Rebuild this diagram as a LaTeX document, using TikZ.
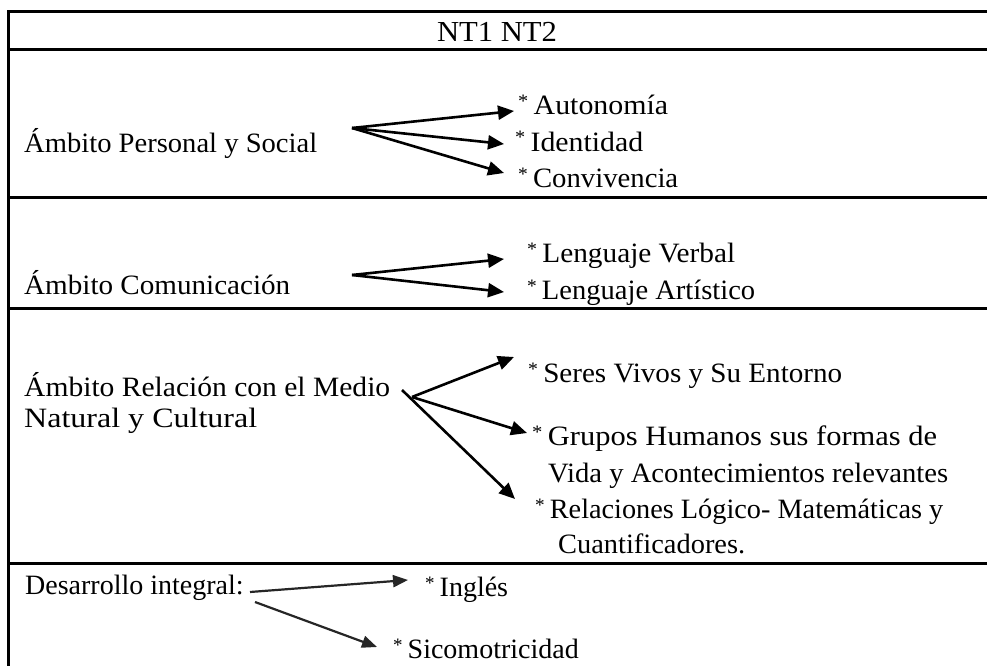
\documentclass[tikz,border=0pt]{standalone}
\usepackage{fontspec}
\usepackage{graphicx}
\setmainfont{Liberation Serif}
\usetikzlibrary{arrows.meta}
\tikzset{
  txt/.style={anchor=base west, inner sep=0pt, font=\fontsize{28}{32}\selectfont},
  rule/.style={line width=3pt},
  arr/.style={line width=2.6pt, -{Triangle[length=16pt,width=14pt]}},
  arrthin/.style={line width=2.2pt, draw=black!85, -{Triangle[length=15pt,width=12pt]}}
}
\newcommand{\bulstar}{\raisebox{7pt}{\fontsize{19}{19}\selectfont *}\hspace{5pt}}
\newcommand{\fitto}[2]{\resizebox{#1}{\height}{#2}}
\begin{document}
\begin{tikzpicture}[x=1pt,y=-1pt]
\useasboundingbox (0,0) rectangle (987,666);
% table
\draw[rule] (987,12) -- (8,12) -- (8,666);
\foreach \yy in {50,197,308,563} \draw[rule] (8,\yy) -- (987,\yy);
% header
\node[anchor=base, inner sep=0pt, font=\fontsize{29}{32}\selectfont] (hd) at (497,42) {\fitto{120pt}{NT1 NT2}};
% row 1
\node[txt] (ps) at (24,152) {\fitto{293pt}{Ámbito Personal y Social}};
\node[txt] (au) at (518,115) {\fitto{150pt}{\bulstar Autonomía}};
\node[txt] (id) at (515,151) {\fitto{128pt}{\bulstar Identidad}};
\node[txt] (co) at (518,187) {\fitto{160pt}{\bulstar Convivencia}};
\coordinate (o1) at (352,128);
\coordinate (t1a) at (514,111);
\coordinate (t1b) at (504,144);
\coordinate (t1c) at (504,173);
\draw[arr] (o1) -- (t1a);
\draw[arr] (o1) -- (t1b);
\draw[arr] (o1) -- (t1c);
% row 2
\node[txt] (cm) at (24,294) {\fitto{266pt}{Ámbito Comunicación}};
\node[txt] (lv) at (527,262) {\fitto{208pt}{\bulstar Lenguaje Verbal}};
\node[txt] (la) at (527,299) {\fitto{228pt}{\bulstar Lenguaje Artístico}};
\coordinate (o2) at (352,275);
\coordinate (t2a) at (504,259);
\coordinate (t2b) at (504,292);
\draw[arr] (o2) -- (t2a);
\draw[arr] (o2) -- (t2b);
% row 3
\node[txt] (rm) at (24,396) {\fitto{366pt}{Ámbito Relación con el Medio}};
\node[txt] (nc) at (24,427) {\fitto{233pt}{Natural y Cultural}};
\node[txt] (sv) at (528,382) {\fitto{314pt}{\bulstar Seres Vivos y Su Entorno}};
\node[txt] (gh) at (532,445) {\fitto{405pt}{\bulstar Grupos Humanos sus formas de}};
\node[txt] (vi) at (548,482) {\fitto{400pt}{Vida y Acontecimientos relevantes}};
\node[txt] (rl) at (535,518) {\fitto{408pt}{\bulstar Relaciones Lógico- Matemáticas y}};
\node[txt] (cu) at (558,553) {\fitto{187pt}{Cuantificadores.}};
\coordinate (o3) at (412,397);
\coordinate (o3b) at (402,390);
\coordinate (t3a) at (514,357);
\coordinate (t3b) at (527,433);
\coordinate (t3c) at (515,499);
\draw[arr] (o3) -- (t3a);
\draw[arr] (o3) -- (t3b);
\draw[arr] (o3b) -- (t3c);
% row 4
\node[txt] (di) at (25,594) {Desarrollo integral:};
\node[txt] (in) at (425,596) {\bulstar Inglés};
\node[txt] (si) at (393,658) {\bulstar Sicomotricidad};
\coordinate (o4a) at (250,592);
\coordinate (o4b) at (255,602);
\coordinate (t4a) at (408,580);
\coordinate (t4b) at (377,647);
\draw[arrthin] (o4a) -- (t4a);
\draw[arrthin] (o4b) -- (t4b);
\end{tikzpicture}
\end{document}
